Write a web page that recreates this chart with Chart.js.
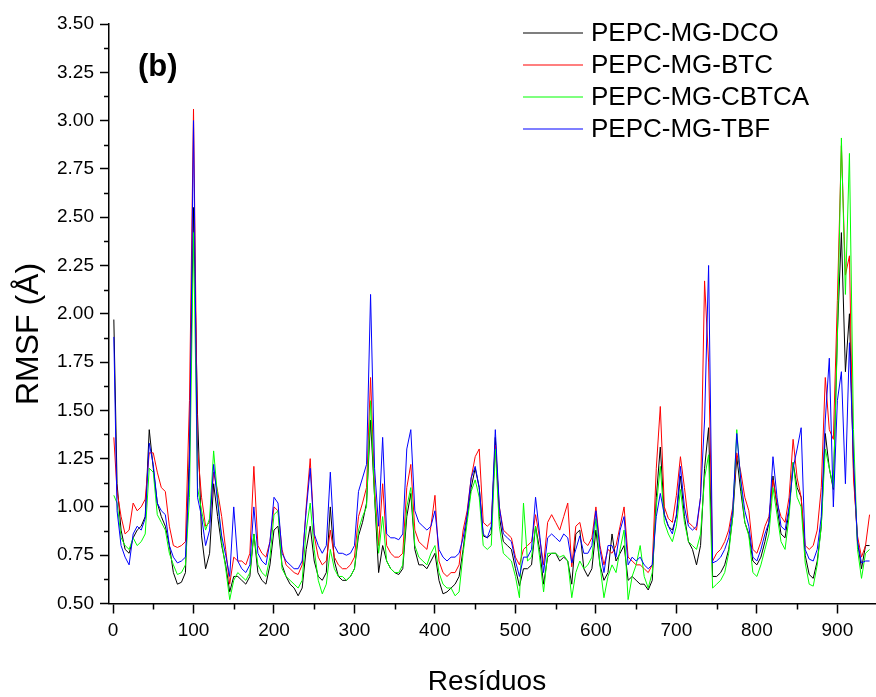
<!DOCTYPE html>
<html>
<head>
<meta charset="utf-8">
<script src="https://cdn.jsdelivr.net/npm/chart.js@4.4.1/dist/chart.umd.min.js"></script>
<style>
  html, body { margin: 0; padding: 0; background: #fff; }
  #wrap { width: 876px; height: 697px; }
</style>
</head>
<body>
<div id="wrap"><canvas id="chartRmsf" width="876" height="697"></canvas></div>
<script>
/* ===========================
   Daten (RMSF pro Residuum)
   =========================== */

const residues = [
  1, 5, 10, 15, 20, 25, 30, 35, 40, 45,
  50, 55, 60, 65, 70, 75, 80, 85, 90, 95,
  100, 105, 110, 115, 120, 125, 130, 135, 140, 145,
  150, 155, 160, 165, 170, 175, 180, 185, 190, 195,
  200, 205, 210, 215, 220, 225, 230, 235, 240, 245,
  250, 255, 260, 265, 270, 275, 280, 285, 290, 295,
  300, 305, 310, 315, 320, 325, 330, 335, 340, 345,
  350, 355, 360, 365, 370, 375, 380, 385, 390, 395,
  400, 405, 410, 415, 420, 425, 430, 435, 440, 445,
  450, 455, 460, 465, 470, 475, 480, 485, 490, 495,
  500, 505, 510, 515, 520, 525, 530, 535, 540, 545,
  550, 555, 560, 565, 570, 575, 580, 585, 590, 595,
  600, 605, 610, 615, 620, 625, 630, 635, 640, 645,
  650, 655, 660, 665, 670, 675, 680, 685, 690, 695,
  700, 705, 710, 715, 720, 725, 730, 735, 740, 745,
  750, 755, 760, 765, 770, 775, 780, 785, 790, 795,
  800, 805, 810, 815, 820, 825, 830, 835, 840, 845,
  850, 855, 860, 865, 870, 875, 880, 885, 890, 895,
  900, 905, 910, 915, 920, 925, 930, 935, 940
];

const rmsfDCO = [
  1.97, 1.12, 0.88, 0.78, 0.76, 0.84, 0.88, 0.90, 0.95, 1.40,
  1.20, 1.02, 0.95, 0.90, 0.80, 0.66, 0.60, 0.61, 0.66, 1.30,
  2.55, 1.48, 0.85, 0.68, 0.76, 1.12, 0.95, 0.80, 0.70, 0.56,
  0.64, 0.64, 0.62, 0.60, 0.64, 0.86, 0.66, 0.62, 0.60, 0.70,
  0.88, 0.90, 0.70, 0.64, 0.60, 0.58, 0.54, 0.58, 0.78, 0.90,
  0.72, 0.64, 0.62, 0.66, 1.00, 0.72, 0.64, 0.62, 0.62, 0.64,
  0.68, 0.85, 0.92, 1.02, 1.45, 1.05, 0.66, 0.80, 0.72, 0.68,
  0.66, 0.65, 0.68, 0.95, 1.07, 0.78, 0.70, 0.70, 0.68, 0.72,
  0.76, 0.62, 0.55, 0.56, 0.58, 0.60, 0.64, 0.78, 0.95, 1.10,
  1.20, 1.10, 0.85, 0.84, 0.86, 1.36, 0.95, 0.82, 0.80, 0.78,
  0.68, 0.59, 0.68, 0.68, 0.70, 0.90, 0.78, 0.60, 0.74, 0.76,
  0.76, 0.72, 0.74, 0.72, 0.60, 0.86, 0.88, 0.68, 0.64, 0.68,
  0.88, 0.70, 0.62, 0.66, 0.86, 0.72, 0.76, 0.80, 0.62, 0.64,
  0.62, 0.60, 0.60, 0.57, 0.62, 1.05, 1.31, 0.96, 0.90, 0.88,
  0.95, 1.16, 0.95, 0.82, 0.78, 0.70, 0.80, 1.20, 1.41, 0.64,
  0.64, 0.66, 0.70, 0.78, 0.95, 1.26, 1.08, 0.92, 0.86, 0.72,
  0.70, 0.74, 0.82, 0.92, 1.16, 1.00, 0.86, 0.84, 0.98, 1.23,
  1.10, 1.05, 0.75, 0.65, 0.63, 0.72, 0.90, 1.38, 1.20, 1.09,
  1.90, 2.42, 1.70, 2.00, 1.20, 0.82, 0.68, 0.80, 0.80
];

const rmsfBTC = [
  1.36, 1.08, 0.95, 0.86, 0.88, 1.02, 0.98, 1.00, 1.04, 1.28,
  1.28, 1.18, 1.10, 1.08, 0.90, 0.80, 0.79, 0.80, 0.82, 1.55,
  3.06, 1.30, 1.05, 0.90, 0.92, 1.18, 1.08, 0.95, 0.78, 0.60,
  0.74, 0.72, 0.72, 0.70, 0.76, 1.21, 0.80, 0.76, 0.74, 0.82,
  1.00, 0.98, 0.78, 0.70, 0.68, 0.66, 0.65, 0.70, 1.00, 1.25,
  0.85, 0.74, 0.70, 0.72, 0.88, 0.74, 0.70, 0.68, 0.68, 0.70,
  0.74, 0.95, 1.02, 1.10, 1.67, 1.10, 0.80, 1.12, 0.80, 0.76,
  0.74, 0.74, 0.76, 1.10, 1.22, 0.88, 0.82, 0.80, 0.78, 0.90,
  1.06, 0.72, 0.66, 0.64, 0.66, 0.66, 0.70, 0.88, 0.98, 1.15,
  1.26, 1.30, 0.92, 0.90, 0.92, 1.32, 1.00, 0.88, 0.86, 0.84,
  0.74, 0.70, 0.78, 0.80, 0.82, 0.96, 0.84, 0.70, 0.92, 0.96,
  0.92, 0.88, 0.95, 1.02, 0.69, 0.90, 0.92, 0.82, 0.80, 0.84,
  1.00, 0.80, 0.70, 0.78, 0.76, 0.80, 0.90, 1.00, 0.74, 0.72,
  0.70, 0.70, 0.68, 0.66, 0.70, 1.20, 1.52, 1.00, 0.94, 0.92,
  1.06, 1.26, 1.10, 0.92, 0.90, 0.88, 1.05, 2.17, 1.75, 0.72,
  0.76, 0.78, 0.82, 0.88, 1.00, 1.28, 1.18, 1.05, 0.98, 0.78,
  0.76, 0.82, 0.90, 0.95, 1.14, 1.02, 0.95, 0.92, 1.05, 1.35,
  1.15, 1.05, 0.80, 0.78, 0.80, 0.88, 1.10, 1.67, 1.40, 1.35,
  2.07, 2.87, 2.20, 2.30, 1.15, 0.85, 0.74, 0.80, 0.96
];

const rmsfCBTCA = [
  1.06, 1.02, 0.84, 0.80, 0.78, 0.84, 0.80, 0.82, 0.86, 1.20,
  1.18, 0.96, 0.92, 0.88, 0.76, 0.70, 0.65, 0.66, 0.70, 1.05,
  2.42, 1.10, 0.98, 0.88, 0.94, 1.29, 1.05, 0.82, 0.68, 0.52,
  0.62, 0.66, 0.64, 0.62, 0.66, 0.86, 0.70, 0.66, 0.64, 0.74,
  0.96, 0.98, 0.68, 0.64, 0.62, 0.60, 0.58, 0.62, 0.88, 1.02,
  0.78, 0.62, 0.55, 0.60, 0.78, 0.68, 0.64, 0.64, 0.62, 0.64,
  0.68, 0.88, 0.95, 1.00, 1.55, 1.05, 0.76, 0.95, 0.72, 0.68,
  0.66, 0.66, 0.70, 1.00, 1.10, 0.80, 0.74, 0.72, 0.70, 0.76,
  0.80, 0.66, 0.60, 0.58, 0.58, 0.54, 0.56, 0.76, 0.92, 1.08,
  1.14, 1.05, 0.80, 0.78, 0.80, 1.30, 0.90, 0.76, 0.74, 0.72,
  0.64, 0.53, 1.02, 0.72, 0.74, 0.90, 0.74, 0.56, 0.76, 0.76,
  0.76, 0.74, 0.75, 0.72, 0.53, 0.66, 0.72, 0.68, 0.70, 0.74,
  0.94, 0.70, 0.53, 0.64, 0.70, 0.66, 0.78, 0.88, 0.52, 0.64,
  0.70, 0.80, 0.64, 0.58, 0.66, 1.00, 1.21, 0.92, 0.86, 0.82,
  0.90, 1.09, 0.92, 0.82, 0.80, 0.78, 0.86, 1.15, 1.27, 0.58,
  0.60, 0.62, 0.66, 0.76, 0.95, 1.40, 1.12, 0.92, 0.85, 0.66,
  0.64, 0.70, 0.78, 0.86, 1.10, 0.96, 0.82, 0.78, 0.95, 1.23,
  1.05, 1.00, 0.71, 0.60, 0.59, 0.70, 0.90, 1.30, 1.20, 1.10,
  1.86, 2.91, 2.10, 2.83, 1.40, 0.78, 0.63, 0.76, 0.78
];

const rmsfTBF = [
  1.88, 0.98, 0.80, 0.74, 0.70, 0.86, 0.90, 0.88, 0.94, 1.33,
  1.22, 1.02, 0.98, 0.96, 0.80, 0.74, 0.71, 0.72, 0.74, 1.20,
  3.00, 1.05, 0.95, 0.80, 0.88, 1.22, 1.02, 0.85, 0.75, 0.64,
  1.00, 0.72, 0.68, 0.66, 0.70, 1.00, 0.76, 0.72, 0.70, 0.82,
  1.05, 1.02, 0.76, 0.72, 0.70, 0.68, 0.68, 0.72, 0.98, 1.20,
  0.86, 0.80, 0.76, 0.80, 1.18, 0.80, 0.76, 0.76, 0.75, 0.76,
  0.80, 1.08, 1.15, 1.22, 2.10, 1.20, 0.90, 1.36, 0.86, 0.84,
  0.84, 0.83, 0.86, 1.30, 1.40, 0.98, 0.92, 0.90, 0.88, 0.90,
  0.98, 0.78, 0.74, 0.72, 0.74, 0.74, 0.76, 0.84, 0.96, 1.15,
  1.21, 1.10, 0.86, 0.84, 0.90, 1.40, 1.00, 0.86, 0.84, 0.82,
  0.72, 0.64, 0.74, 0.74, 0.78, 1.05, 0.86, 0.66, 0.84, 0.86,
  0.84, 0.82, 0.86, 0.84, 0.71, 0.78, 0.85, 0.76, 0.76, 0.80,
  0.98, 0.78, 0.66, 0.80, 0.80, 0.74, 0.88, 0.95, 0.70, 0.74,
  0.72, 0.74, 0.70, 0.68, 0.70, 0.95, 1.07, 0.96, 0.90, 0.86,
  0.96, 1.21, 1.00, 0.90, 0.88, 0.90, 1.05, 1.45, 2.25, 0.71,
  0.72, 0.74, 0.78, 0.84, 0.98, 1.38, 1.14, 0.98, 0.90, 0.74,
  0.72, 0.78, 0.86, 0.92, 1.26, 1.05, 0.90, 0.88, 1.00, 1.20,
  1.30, 1.41, 0.78, 0.73, 0.72, 0.78, 0.95, 1.45, 1.77, 1.00,
  1.55, 1.70, 1.12, 1.85, 1.25, 0.82, 0.71, 0.72, 0.72
];

const seriesNames = ["PEPC-MG-DCO", "PEPC-MG-BTC", "PEPC-MG-CBTCA", "PEPC-MG-TBF"];
const seriesColors = ["#000000", "#ff0000", "#00ff00", "#0000ff"];

/* Achsen-Ticks */
const xTicks = [0, 100, 200, 300, 400, 500, 600, 700, 800, 900];
const xMinorTicks = [50, 150, 250, 350, 450, 550, 650, 750, 850];
const yTicks = [0.5, 0.75, 1.0, 1.25, 1.5, 1.75, 2.0, 2.25, 2.5, 2.75, 3.0, 3.25, 3.5];
const yMinorTicks = [0.625, 0.875, 1.125, 1.375, 1.625, 1.875, 2.125, 2.375, 2.625, 2.875, 3.125, 3.375];

const FONT = "'Liberation Sans', Arial, sans-serif";

/* ===========================
   Plugin: Nebenticks, Legende, Titel
   =========================== */

const extrasPlugin = {
  id: "extras",
  afterDraw(chart) {
    const ctx = chart.ctx;
    const xs = chart.scales.x;
    const ys = chart.scales.y;
    const area = chart.chartArea;

    ctx.save();
    ctx.strokeStyle = "#000";
    ctx.lineWidth = 1.5;

    // Nebenticks
    ctx.beginPath();
    yMinorTicks.forEach(v => {
      const py = Math.round(ys.getPixelForValue(v)) + 0.5;
      ctx.moveTo(area.left - 5, py);
      ctx.lineTo(area.left, py);
    });
    xMinorTicks.forEach(v => {
      const px = Math.round(xs.getPixelForValue(v)) + 0.5;
      ctx.moveTo(px, area.bottom);
      ctx.lineTo(px, area.bottom + 6);
    });
    ctx.stroke();

    // Legende
    ctx.lineWidth = 1.2;
    ctx.font = "26px " + FONT;
    ctx.textBaseline = "middle";
    ctx.textAlign = "left";
    chart.data.datasets.forEach((ds, i) => {
      const y = 33 + i * 32;
      ctx.strokeStyle = ds.borderColor;
      ctx.beginPath();
      ctx.moveTo(523, y);
      ctx.lineTo(583, y);
      ctx.stroke();
      ctx.fillStyle = "#000";
      ctx.fillText(ds.label, 591, y + 1);
    });

    // Panel-Label
    ctx.font = "bold 31px " + FONT;
    ctx.fillText("(b)", 138, 67);

    // Achsentitel
    ctx.font = "28px " + FONT;
    ctx.textAlign = "center";
    ctx.fillText("Resíduos", 487, 682);

    ctx.font = "32px " + FONT;
    ctx.translate(29, 334);
    ctx.rotate(-Math.PI / 2);
    ctx.fillText("RMSF (Å)", 0, 0);
    ctx.restore();
  }
};

/* ===========================
   Chart
   =========================== */

const rmsfSeries = [rmsfDCO, rmsfBTC, rmsfCBTCA, rmsfTBF];

const datasets = rmsfSeries.map((vals, i) => ({
  label: seriesNames[i],
  data: residues.map((r, j) => ({ x: r, y: vals[j] })),
  borderColor: seriesColors[i],
  borderWidth: 1,
  pointRadius: 0,
  tension: 0,
  fill: false,
  order: 3 - i
}));

new Chart(document.getElementById("chartRmsf"), {
  type: "line",
  data: { datasets },
  plugins: [extrasPlugin],
  options: {
    responsive: false,
    animation: false,
    devicePixelRatio: 1,
    layout: { padding: { top: 24, right: 0, left: 0, bottom: 0 } },
    plugins: {
      legend: { display: false },
      tooltip: { enabled: false }
    },
    scales: {
      x: {
        type: "linear",
        min: -5,
        max: 948,
        afterBuildTicks: s => { s.ticks = xTicks.map(v => ({ value: v })); },
        afterFit: s => { s.height = 93.5; },
        ticks: {
          color: "#000",
          font: { family: FONT, size: 19 },
          padding: 6,
          maxRotation: 0,
          autoSkip: false,
          callback: v => String(v)
        },
        grid: {
          drawOnChartArea: false,
          drawTicks: true,
          tickLength: 10,
          tickColor: "#000",
          tickWidth: 1.5
        },
        border: { display: true, color: "#000", width: 1.5 }
      },
      y: {
        min: 0.5,
        max: 3.5,
        afterBuildTicks: s => { s.ticks = yTicks.map(v => ({ value: v })); },
        afterFit: s => { s.width = 109; },
        ticks: {
          color: "#000",
          font: { family: FONT, size: 19 },
          padding: 6,
          autoSkip: false,
          callback: v => v.toFixed(2)
        },
        grid: {
          drawOnChartArea: false,
          drawTicks: true,
          tickLength: 9,
          tickColor: "#000",
          tickWidth: 1.5
        },
        border: { display: true, color: "#000", width: 1.5 }
      }
    }
  }
});
</script>
</body>
</html>
